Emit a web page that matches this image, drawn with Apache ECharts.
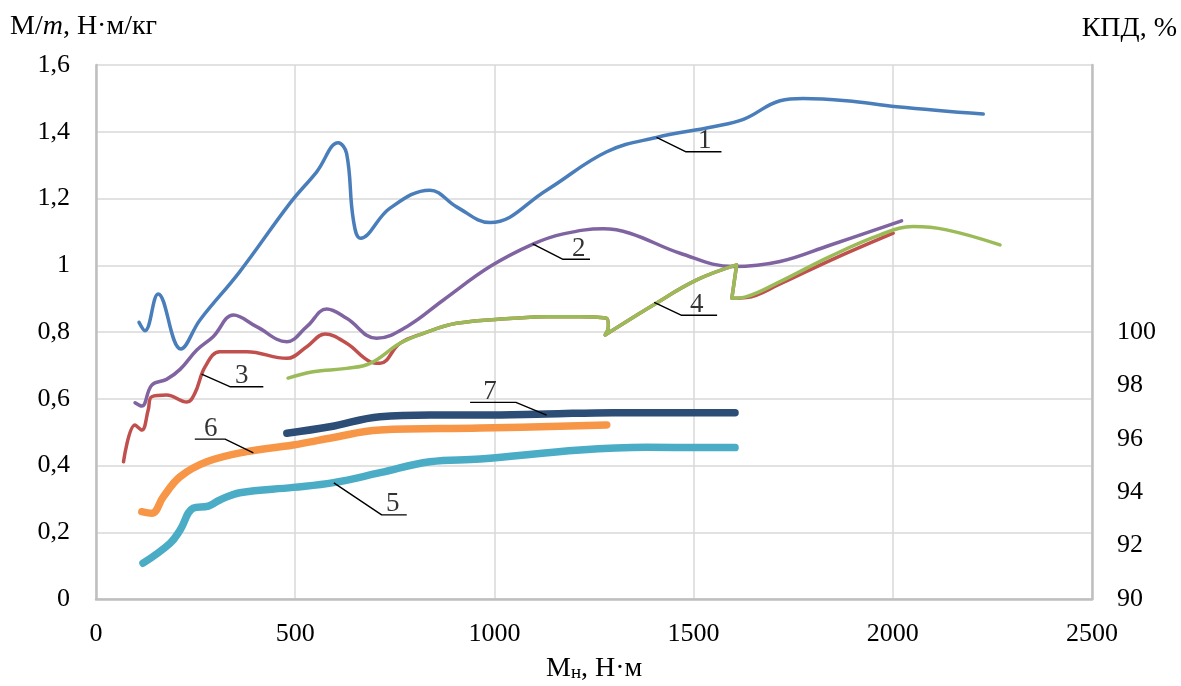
<!DOCTYPE html>
<html><head><meta charset="utf-8">
<script src="https://cdn.jsdelivr.net/npm/echarts@6/dist/echarts.min.js"></script>
<style>html,body{margin:0;padding:0;background:#fff}#c{width:1181px;height:686px}</style>
</head><body><div id="c"></div>
<script>
// Curve 1..4: M/m (left axis), [Mн, value]
const curve1 = [[108,0.829],[123,0.804],[156,0.914],[213,0.749],[261,0.836],[361,0.981],[487,1.186],[554,1.280],[608,1.367],[629,1.335],[646,1.136],[664,1.081],[738,1.171],[838,1.225],[905,1.175],[989,1.128],[1131,1.225],[1282,1.340],[1407,1.383],[1549,1.415],[1625,1.437],[1717,1.493],[1775,1.500],[1884,1.493],[2010,1.475],[2227,1.453]];
const curve2 = [[98,0.588],[115,0.578],[140,0.641],[177,0.658],[211,0.688],[253,0.746],[294,0.786],[345,0.851],[403,0.816],[479,0.771],[529,0.816],[579,0.869],[629,0.841],[704,0.781],[780,0.816],[872,0.896],[989,0.996],[1098,1.064],[1173,1.094],[1273,1.109],[1340,1.096],[1466,1.036],[1600,0.996],[1717,1.011],[1842,1.060],[2022,1.133]];
const curve3 = [[69,0.411],[98,0.521],[115,0.506],[131,0.566],[140,0.606],[177,0.611],[228,0.590],[248,0.616],[274,0.696],[311,0.741],[378,0.741],[479,0.721],[529,0.756],[575,0.794],[629,0.766],[688,0.711],[713,0.706],[763,0.766],[822,0.796],[905,0.826],[1047,0.841],[1131,0.846],[1215,0.846],[1282,0.841],[1286,0.816],[1278,0.791],[1399,0.881],[1508,0.956],[1608,1.001],[1596,0.901],[1633,0.903],[1717,0.944],[1842,1.014],[2001,1.096]];
const curve4 = [[482,0.662],[545,0.681],[629,0.691],[688,0.706],[763,0.766],[822,0.796],[905,0.826],[1047,0.841],[1131,0.846],[1215,0.846],[1282,0.841],[1286,0.816],[1278,0.791],[1399,0.881],[1508,0.956],[1608,1.001],[1596,0.901],[1633,0.906],[1717,0.951],[1842,1.026],[1968,1.091],[2051,1.116],[2135,1.106],[2269,1.061]];
// Curve 5..7: КПД, % (right axis)
const curve5 = [[118,91.34],[186,92.09],[211,92.58],[244,93.40],[282,93.48],[311,93.71],[361,93.98],[495,94.18],[596,94.36],[713,94.73],[838,95.14],[964,95.24],[1215,95.58],[1382,95.68],[1604,95.67]];
const curve6 = [[115,93.27],[140,93.21],[169,93.83],[211,94.58],[278,95.14],[378,95.52],[495,95.77],[587,96.02],[713,96.33],[964,96.40],[1282,96.52]];
const curve7 = [[479,96.21],[587,96.45],[713,96.83],[838,96.89],[964,96.89],[1131,96.93],[1298,96.98],[1604,96.98]];
// Leader lines for curve numbers (left-axis units): point on curve, elbow, end of underline
const leaderNames = ['1','2','3','4','5','6','7'];
const leaderLines = [
  [[1407,1.383],[1481,1.340],[1570,1.340]],
  [[1096,1.064],[1171,1.018],[1240,1.018]],
  [[265,0.674],[336,0.636],[420,0.636]],
  [[1401,0.889],[1470,0.850],[1559,0.850]],
  [[597,0.348],[717,0.252],[780,0.252]],
  [[395,0.438],[324,0.479],[248,0.479]],
  [[1131,0.551],[1054,0.589],[939,0.589]]
];
const leaderTextPos = [[1528,1.340],[1212,1.018],[366,0.636],[1508,0.850],[745,0.252],[288,0.479],[989,0.589]];
const xTicks = [0,500,1000,1500,2000,2500];
const leftTicks = [0,0.2,0.4,0.6,0.8,1,1.2,1.4,1.6];
const rightTicks = [90,92,94,96,98,100];

const SERIF = '"Liberation Serif","Times New Roman",serif';
const colors = ['#4A7EBB','#8064A2','#C0504D','#9BBB59','#4BACC6','#F79646','#2C4D75'];

const chart = echarts.init(document.getElementById('c'), null, {renderer:'canvas'});
function thin(name, data, color) {
  return {name, type:'line', data, yAxisIndex:0, smooth:0.4, symbol:'none', lineStyle:{color, width:3.5, cap:'round', join:'round'}, z:3};
}
function thick(name, data, color) {
  return {name, type:'line', data, yAxisIndex:1, smooth:0.4, symbol:'none', lineStyle:{color, width:7.5, cap:'round', join:'round'}, z:3};
}
const series = [
  thin('1', curve1, colors[0]),
  thin('2', curve2, colors[1]),
  thin('3', curve3, colors[2]),
  thin('4', curve4, colors[3]),
  thick('5', curve5, colors[4]),
  thick('6', curve6, colors[5]),
  thick('7', curve7, colors[6])
];
leaderLines.forEach((pts, i) => {
  series.push({type:'line', data:pts, yAxisIndex:0, symbol:'none', smooth:false, silent:true,
    lineStyle:{color:'#000', width:1.4}, z:5});
});
series.push({type:'scatter', yAxisIndex:0, symbolSize:0, silent:true, z:6,
  data: leaderTextPos.map((p,i)=>({value:p, name:leaderNames[i]})),
  label:{show:true, position:'top', distance:-3, formatter:p=>p.name, color:'#000', fontFamily:SERIF, fontSize:27}
});

chart.setOption({
  animation:false,
  backgroundColor:'#fff',
  grid:{left:96, right:89, top:65, bottom:87, containLabel:false},
  xAxis:{type:'value', min:xTicks[0], max:xTicks[xTicks.length-1], interval:500,
    axisLine:{show:true, lineStyle:{color:'#BFBFBF', width:2.5}},
    axisTick:{show:false},
    axisLabel:{margin:22, color:'#000', fontFamily:SERIF, fontSize:26, formatter:v=>String(v)},
    splitLine:{show:true, lineStyle:{color:'#D9D9D9', width:1.5}}
  },
  yAxis:[
    {type:'value', min:0, max:1.6, interval:0.2, position:'left',
     axisLine:{show:true, lineStyle:{color:'#BFBFBF', width:2.5}},
     axisTick:{show:false},
     axisLabel:{margin:26, color:'#000', fontFamily:SERIF, fontSize:26,
       formatter:v=>leftTicks.some(t=>Math.abs(t-v)<1e-6)?String(+v.toFixed(1)).replace('.',','):''},
     splitLine:{show:true, lineStyle:{color:'#D9D9D9', width:1.5}}
    },
    {type:'value', min:90, max:110, interval:2, position:'right',
     axisLine:{show:true, lineStyle:{color:'#BFBFBF', width:2.5}},
     axisTick:{show:false},
     axisLabel:{margin:25, color:'#000', fontFamily:SERIF, fontSize:26,
       formatter:v=>rightTicks.indexOf(Math.round(v))>=0?String(Math.round(v)):''},
     splitLine:{show:false}
    }
  ],
  graphic:[
    {type:'text', left:10, top:13, style:{text:'{a|М/}{i|m}{a|, Н·м/кг}', rich:{
      a:{fontFamily:SERIF, fontSize:28, fill:'#000'}, i:{fontFamily:SERIF, fontSize:28, fontStyle:'italic', fill:'#000'}}}},
    {type:'text', right:4, top:15, style:{text:'КПД, %', fontFamily:SERIF, fontSize:28, fill:'#000'}},
    {type:'text', left:546, top:655, style:{text:'{a|М}{s|н}{a|, Н·м}', rich:{
      a:{fontFamily:SERIF, fontSize:28, fill:'#000', verticalAlign:'bottom'}, s:{fontFamily:SERIF, fontSize:19, fill:'#000', padding:[10,0,0,0], verticalAlign:'bottom'}}}}
  ],
  series
});
</script></body></html>
